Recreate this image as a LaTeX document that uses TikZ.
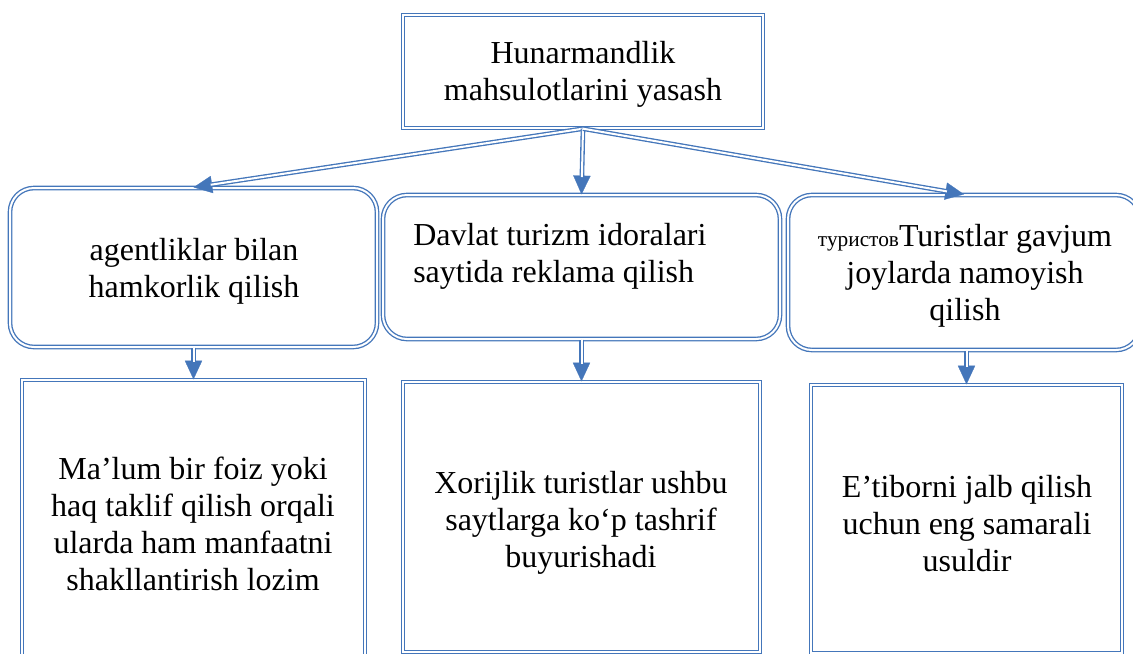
\documentclass[tikz,border=0pt]{standalone}
\usepackage{fontspec}
\setmainfont{Liberation Serif}
\usetikzlibrary{arrows.meta}
\definecolor{wblue}{RGB}{68,118,186}
\begin{document}
\begin{tikzpicture}[x=0.75pt,y=-0.75pt,
  dbl/.style={draw=wblue, line width=1pt, double=white, double distance=1.5pt},
  sqbox/.style={dbl, rectangle, inner sep=0pt},
  rbox/.style={dbl, rectangle, rounded corners=18pt, inner sep=0pt},
  txt/.style={font=\fontsize{24}{27.75}\selectfont, align=center, inner sep=0pt},
  tipline/.style={draw=wblue, line width=0.2pt, -{Triangle[length=14pt,width=13pt]}},
  shaft/.style={dbl, shorten >=13pt},
]
\useasboundingbox (0,0) rectangle (1133,654);
\clip (0,0) rectangle (1133,654);
% boxes
\node[sqbox, minimum width=270pt, minimum height=84.75pt] (top) at (583,71.5) {};
\node[rbox, minimum width=275.25pt, minimum height=119.25pt] (r1) at (193.5,267.5) {};
\node[rbox, minimum width=297.75pt, minimum height=108pt] (r2) at (581.5,267) {};
\node[rbox, minimum width=264pt, minimum height=116.25pt] (r3) at (964,272.5) {};
\node[sqbox, minimum width=257.25pt, minimum height=217.5pt] (b1) at (193.5,525) {};
\node[sqbox, minimum width=267.75pt, minimum height=202.5pt] (b2) at (581.5,517) {};
\node[sqbox, minimum width=233.25pt, minimum height=201pt] (b3) at (966.5,519) {};
% texts
\node[txt] (t0) at (583,74) {Hunarmandlik\\mahsulotlarini yasash};
\node[txt] (t1) at (194,271) {agentliklar bilan\\hamkorlik qilish};
\node[txt, align=left, anchor=west] (t2) at (413,256) {Davlat turizm idoralari\\saytida reklama qilish};
\node[txt] (t3) at (965,276) {{\fontsize{16}{18}\selectfont туристов}Turistlar gavjum\\joylarda namoyish\\qilish};
\node[txt] (t4) at (193,524) {Ma’lum bir foiz yoki\\haq taklif qilish orqali\\ularda ham manfaatni\\shakllantirish lozim};
\node[txt] (t5) at (581,522.5) {Xorijlik turistlar ushbu\\saytlarga ko‘p tashrif\\buyurishadi};
\node[txt] (t6) at (967,524) {E’tiborni jalb qilish\\uchun eng samarali\\usuldir};
% connectors: tip + thin core, then double shaft on top
\foreach \a/\b in {top.south/r1.north, top.south/r2.north, top.south/r3.north, r1.south/b1.north, r2.south/b2.north}{
  \draw[tipline] (\a) -- (\b);
  \draw[shaft] (\a) -- (\b);
}
\draw[tipline] (r3.south -| b3.north) -- (b3.north);
\draw[shaft] (r3.south -| b3.north) -- (b3.north);
\end{tikzpicture}
\end{document}
